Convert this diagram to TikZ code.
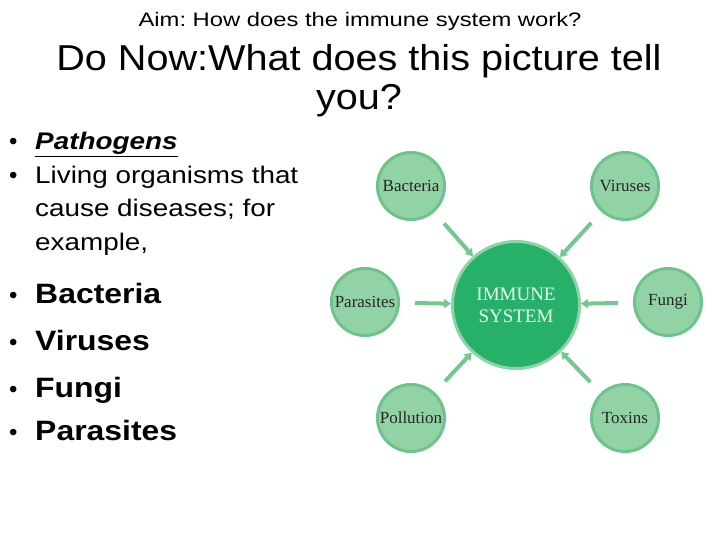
\documentclass[tikz,border=0pt]{standalone}
\usepackage{fontspec}
\setmainfont{Liberation Sans}
\newfontfamily\serifb{Liberation Serif}
\usepackage{xcolor}
\usetikzlibrary{arrows.meta,shapes}
\definecolor{leafgreen}{RGB}{146,211,166}
\definecolor{leafedge}{RGB}{108,196,140}
\definecolor{corefill}{RGB}{38,176,106}
\definecolor{coreedge}{RGB}{140,212,166}
\definecolor{arrowgreen}{RGB}{118,198,146}
\frenchspacing
\tikzset{
  agent/.style={shape=circle, fill=leafgreen, draw=leafedge, line width=3pt,
    minimum size=67pt, inner sep=0pt, font=\serifb\fontsize{17}{19}\selectfont, text=black!85},
  core/.style={shape=circle, fill=corefill, draw=coreedge, line width=3pt,
    minimum size=127pt, inner sep=0pt, align=center,
    font=\serifb\fontsize{19}{22}\selectfont, text=white!92!green},
  attack/.style={-{Triangle[length=7pt,width=9pt]}, arrowgreen, line width=4pt,
    shorten <=15pt},
  dot/.style={anchor=base west, inner sep=0pt, font=\fontsize{24}{28}\selectfont},
  plain/.style={anchor=base west, inner sep=0pt, xscale=1.16, font=\fontsize{24}{28}\selectfont},
  bold/.style={anchor=base west, inner sep=0pt, xscale=1.14, font=\bfseries\fontsize{28}{32}\selectfont}
}
\begin{document}
\begin{tikzpicture}[x=1pt,y=-1pt]
\useasboundingbox (0,0) rectangle (720,540);
% heading
\node[anchor=base,xscale=1.22,font=\fontsize{19.5}{23}\selectfont] (aim) at (360,26.5) {Aim: How does the immune system work?};
\node[anchor=base,xscale=1.1,font=\fontsize{36}{40}\selectfont] (now1) at (359,71) {Do Now:What does this picture tell};
\node[anchor=base,xscale=1.1,font=\fontsize{36}{40}\selectfont] (now2) at (359,110) {you?};
% bullet list
\node[dot] (b1) at (9,150) {\textbullet};
\node[plain] (path) at (35,150) {\underline{\textbf{\textit{Pathogens}}}};
\node[dot] (b2) at (9,184) {\textbullet};
\node[plain] (liv1) at (35,184) {Living organisms that};
\node[plain] (liv2) at (35,217) {cause diseases; for};
\node[plain] (liv3) at (35,250) {example,};
\node[dot] (b3) at (9,303) {\textbullet};
\node[bold] (l1) at (35,303) {Bacteria};
\node[dot] (b4) at (9,350) {\textbullet};
\node[bold] (l2) at (35,350) {Viruses};
\node[dot] (b5) at (9,397) {\textbullet};
\node[bold] (l3) at (35,397) {Fungi};
\node[dot] (b6) at (9,440) {\textbullet};
\node[bold] (l4) at (35,440) {Parasites};
% diagram
\node[core] (immune) at (516,305) {IMMUNE\\SYSTEM};
\node[agent] (bact) at (411,186) {Bacteria};
\node[agent] (vir) at (625,186) {Viruses};
\node[agent] (para) at (365,302) {Parasites};
\node[agent] (fung) at (668,302) {Fungi};
\node[agent] (poll) at (411,418) {Pollution};
\node[agent] (tox) at (625,418) {Toxins};
\foreach \src in {bact,vir,para,fung,poll,tox}
  \draw[attack] (\src) -- (immune);
\end{tikzpicture}
\end{document}
